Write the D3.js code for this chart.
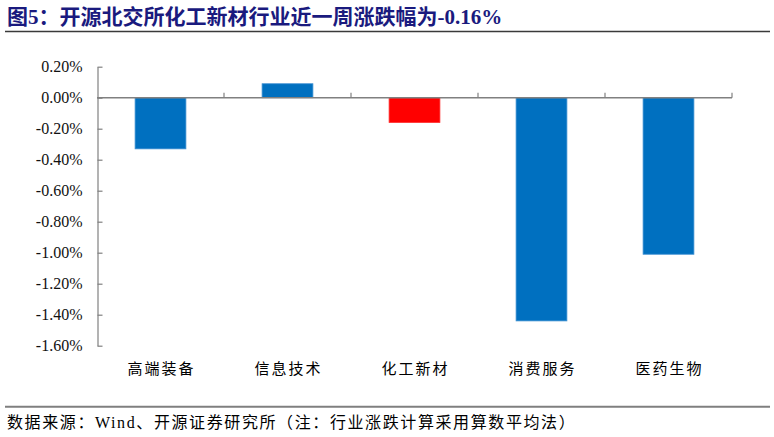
<!DOCTYPE html>
<html>
<head>
<meta charset="utf-8">
<script src="https://cdn.jsdelivr.net/npm/d3@7/dist/d3.min.js"></script>
<style>
  body { margin: 0; background: #fff; }
  svg { display: block; }
</style>
</head>
<body>
<div id="chart"></div>
<script>
// data (weekly change, %)
var categories = ["高端装备", "信息技术", "化工新材", "消费服务", "医药生物"];
var changes = [-0.33, 0.09, -0.16, -1.44, -1.01];
var highlight = "化工新材";
var yTicks = [0.2, 0, -0.2, -0.4, -0.6, -0.8, -1.0, -1.2, -1.4, -1.6];
var titleText = "图5：开源北交所化工新材行业近一周涨跌幅为-0.16%";
var sourceText = "数据来源：Wind、开源证券研究所（注：行业涨跌计算采用算数平均法）";

var width = 774;
var height = 437;
var fontStack = '"Times New Roman", "Liberation Serif", "DejaVu Serif", "Noto Sans CJK SC", serif';

var svg = d3.select("#chart").append("svg")
    .attr("width", width)
    .attr("height", height);

// title + rule
svg.append("text")
    .attr("x", 7)
    .attr("y", 24)
    .style("font-family", fontStack)
    .style("font-size", "21px")
    .style("font-weight", "bold")
    .style("fill", "#1a1a7e")
    .text(titleText);

svg.append("line")
    .attr("x1", 5).attr("x2", 770)
    .attr("y1", 31.5).attr("y2", 31.5)
    .attr("stroke", "#3a3a3a")
    .attr("stroke-width", 1.3);

var x = d3.scaleBand()
    .domain(categories)
    .range([97, 732])
    .paddingInner(0.6)
    .paddingOuter(0.3);

var y = d3.scaleLinear()
    .domain([-1.6, 0.2])
    .range([345.7, 66.7]);

// bars
svg.selectAll("rect.bar")
    .data(categories)
    .enter()
    .append("rect")
    .attr("class", "bar")
    .attr("x", function(d) { return x(d); })
    .attr("width", x.bandwidth())
    .attr("y", function(d, i) { return y(Math.max(0, changes[i])); })
    .attr("height", function(d, i) { return Math.abs(y(changes[i]) - y(0)); })
    .style("fill", function(d) { return d === highlight ? "#ff0000" : "#0070c0"; })
    .style("stroke", function(d) { return d === highlight ? "#ff3030" : "#3d8fd1"; })
    .style("stroke-width", 0.8);

// y axis
var yAxis = d3.axisLeft(y)
    .tickValues(yTicks)
    .tickSizeInner(-5)
    .tickSizeOuter(0)
    .tickPadding(15)
    .tickFormat(function(d) { return d.toFixed(2) + "%"; });

var yg = svg.append("g")
    .attr("transform", "translate(97.5,0)")
    .call(yAxis)
    .attr("font-family", null)
    .attr("font-size", null);
yg.select(".domain").attr("stroke", "#808080").attr("stroke-width", 1.2);
yg.selectAll(".tick line").attr("stroke", "#808080").attr("stroke-width", 1.2);
yg.selectAll(".tick text")
    .style("font-family", fontStack)
    .style("font-size", "16px")
    .style("fill", "#111");

// x axis along zero
var zeroY = y(0);
svg.append("line")
    .attr("x1", 97).attr("x2", 732)
    .attr("y1", zeroY).attr("y2", zeroY)
    .attr("stroke", "#808080")
    .attr("stroke-width", 1.4);

svg.selectAll("line.xtick")
    .data(categories)
    .enter()
    .append("line")
    .attr("class", "xtick")
    .attr("x1", function(d) { return x(d) + x.bandwidth() + x.step() * x.paddingInner() / 2; })
    .attr("x2", function(d) { return x(d) + x.bandwidth() + x.step() * x.paddingInner() / 2; })
    .attr("y1", zeroY)
    .attr("y2", zeroY - 5)
    .attr("stroke", "#808080")
    .attr("stroke-width", 1.2);

// category labels
svg.selectAll("text.cat")
    .data(categories)
    .enter()
    .append("text")
    .attr("class", "cat")
    .attr("x", function(d) { return x(d) + x.bandwidth() / 2 + 1; })
    .attr("y", 374)
    .attr("text-anchor", "middle")
    .style("font-family", fontStack)
    .style("font-size", "15px")
    .style("letter-spacing", "2px")
    .style("fill", "#000")
    .text(function(d) { return d; });

// source rule + note
svg.append("line")
    .attr("x1", 5).attr("x2", 770)
    .attr("y1", 406.7).attr("y2", 406.7)
    .attr("stroke", "#7f7f7f")
    .attr("stroke-width", 2);

svg.append("text")
    .attr("x", 7)
    .attr("y", 428)
    .style("font-family", fontStack)
    .style("font-size", "16px")
    .style("letter-spacing", "1.6px")
    .style("fill", "#000")
    .text(sourceText);
</script>
</body>
</html>
